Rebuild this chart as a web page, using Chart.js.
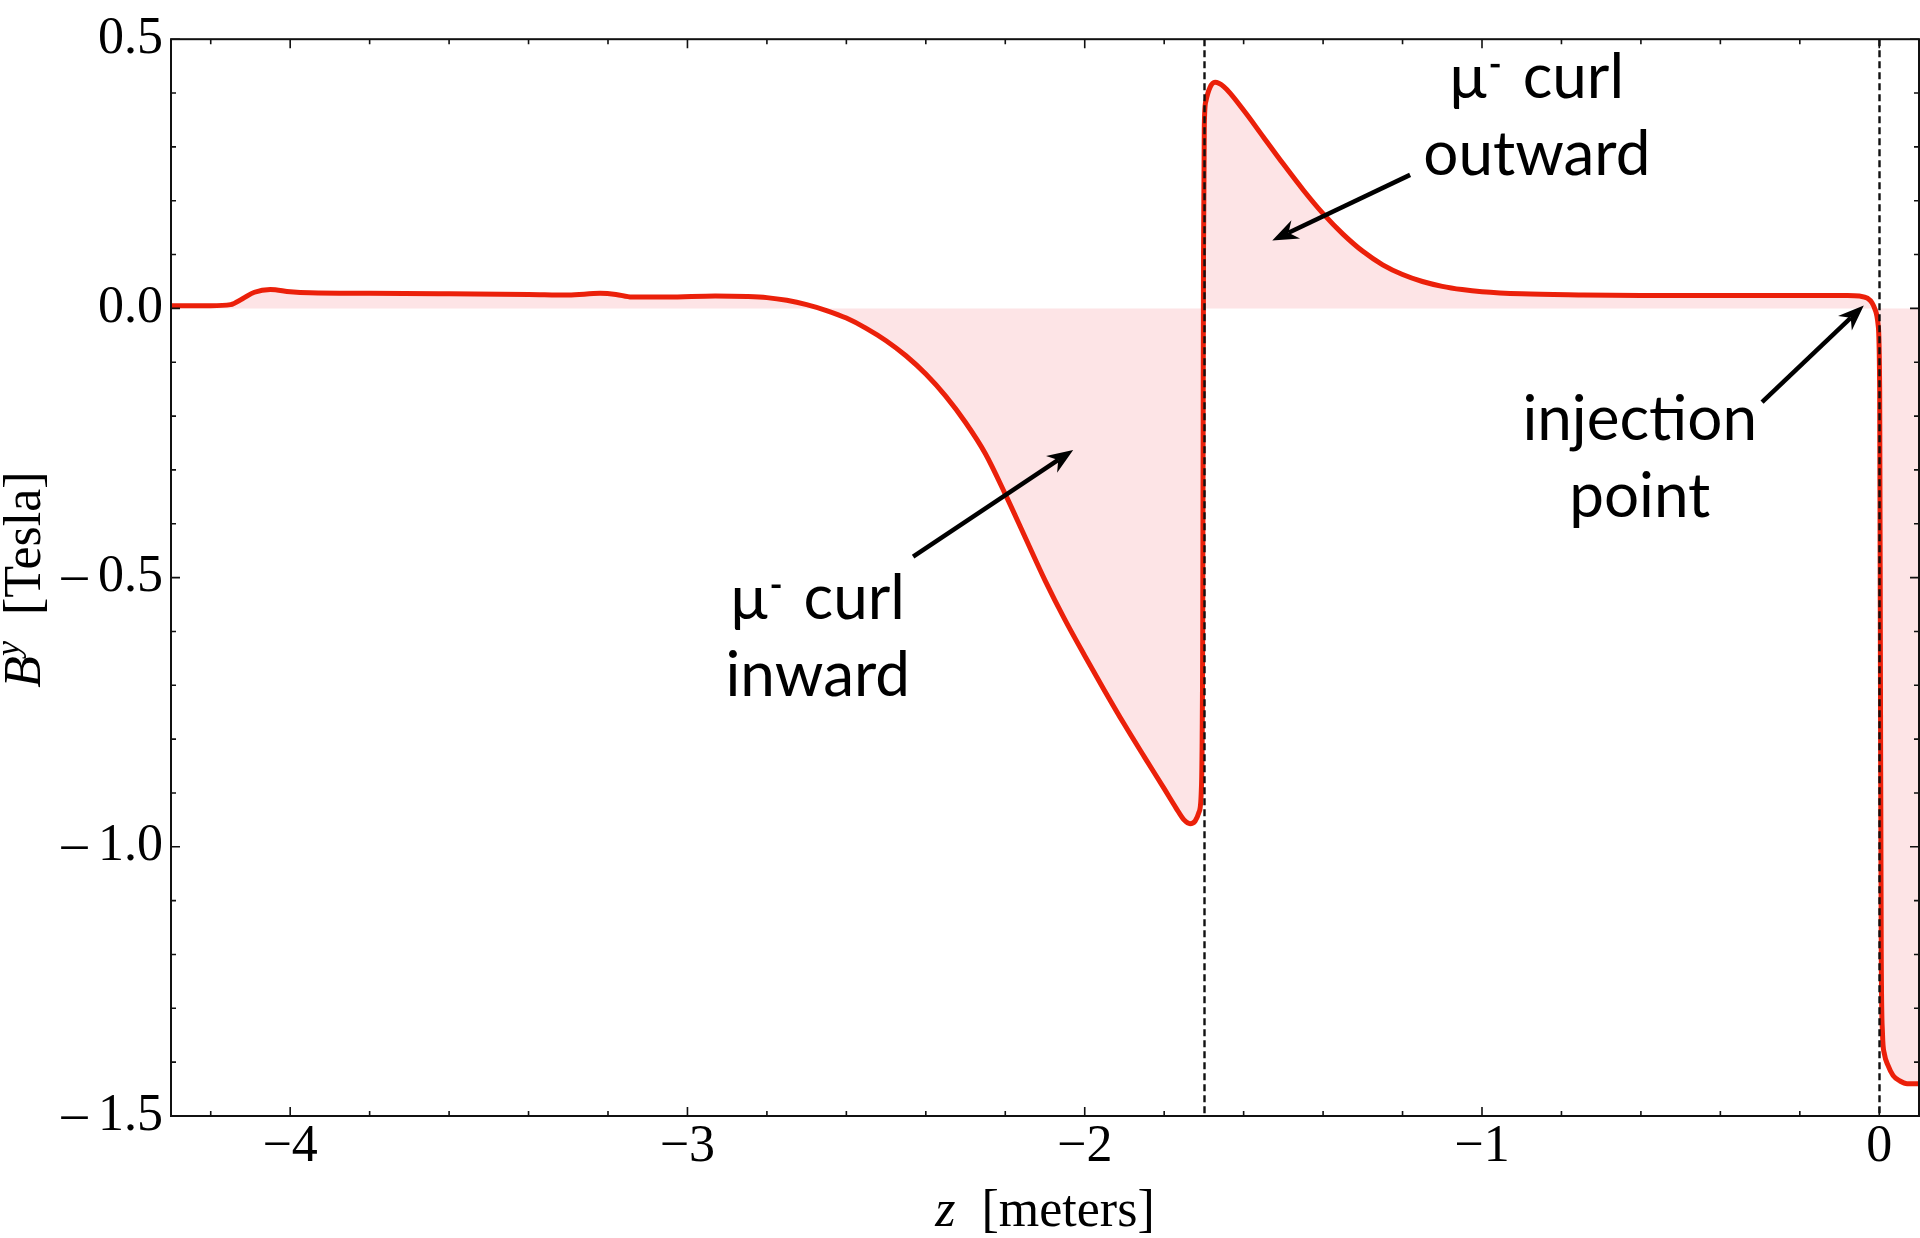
<!DOCTYPE html>
<html>
<head>
<meta charset="utf-8">
<title>B^y along z</title>
<script src="https://cdn.jsdelivr.net/npm/chart.js@4.4.0/dist/chart.umd.min.js"></script>
<style>
  html, body { margin: 0; padding: 0; background: #fff; }
  #wrap { width: 1920px; height: 1238px; position: relative; }
</style>
</head>
<body>
<div id="wrap"><canvas id="field"></canvas></div>
<script>
// z along the beam line [meters]
const zMeters = [
  -4.30, -4.20, -4.15, -4.12, -4.09, -4.05, -4.00, -3.95, -3.80, -3.60,
  -3.40, -3.30, -3.22, -3.18, -3.14, -3.05, -2.93, -2.85, -2.80, -2.75,
  -2.70, -2.65, -2.60, -2.55, -2.50, -2.45, -2.40, -2.35, -2.30, -2.25,
  -2.20, -2.15, -2.10, -2.05, -2.00, -1.95, -1.90, -1.85, -1.80, -1.77,
  -1.75, -1.735, -1.722, -1.712, -1.706, -1.703, -1.701, -1.699, -1.695, -1.685,
  -1.672, -1.65, -1.60, -1.55, -1.50, -1.45, -1.40, -1.35, -1.30, -1.25,
  -1.20, -1.15, -1.10, -1.05, -1.00, -0.90, -0.75, -0.60, -0.40, -0.20,
  -0.08, -0.05, -0.03, -0.018, -0.009, -0.003, 0.001, 0.003, 0.005, 0.008,
  0.013, 0.022, 0.035, 0.052, 0.07, 0.10
];
// vertical field component [Tesla]
const byTesla = [
  0.005, 0.005, 0.007, 0.018, 0.030, 0.035, 0.031, 0.029, 0.028, 0.027,
  0.026, 0.025, 0.028, 0.026, 0.021, 0.021, 0.023, 0.022, 0.020, 0.015,
  0.007, -0.004, -0.018, -0.037, -0.060, -0.088, -0.122, -0.163, -0.212, -0.270,
  -0.345, -0.425, -0.505, -0.578, -0.645, -0.710, -0.773, -0.833, -0.892, -0.928,
  -0.950, -0.957, -0.952, -0.935, -0.885, -0.60, 0.10, 0.34, 0.385, 0.410,
  0.420, 0.412, 0.368, 0.318, 0.268, 0.220, 0.176, 0.138, 0.106, 0.081,
  0.063, 0.050, 0.041, 0.035, 0.031, 0.027, 0.025, 0.024, 0.024, 0.024,
  0.024, 0.023, 0.019, 0.010, -0.005, -0.030, -0.15, -0.70, -1.20, -1.345,
  -1.385, -1.406, -1.425, -1.435, -1.44, -1.44
];

const xTickValues = [-4, -3, -2, -1, 0];
const xTickLabels = ["−4", "−3", "−2", "−1", "0"];
const yTickValues = [-1.5, -1, -0.5, 0, 0.5];
const yTickLabels = ["–\u20091.5", "–\u20091.0", "–\u20090.5", "0.0", "0.5"];

// dashed vertical markers
const markerZ = [-1.70, 0];

const noteTexts = [
  ["μ⁻ curl", "inward"],
  ["μ⁻ curl", "outward"],
  ["injection", "point"]
];

// where the notes sit, in data coordinates (text centre / first baseline, arrow tail -> tip)
const notePlaces = [
  { z: -2.672, b: -0.576, tail: [-2.432, -0.461], tip: [-2.029, -0.263] },
  { z: -0.862, b: 0.391, tail: [-1.181, 0.248], tip: [-1.528, 0.126] },
  { z: -0.603, b: -0.244, tail: [-0.295, -0.174], tip: [-0.039, 0.0056] }
];

const serif = "'Liberation Serif', 'Times New Roman', serif";
const sans = "Lato, 'Open Sans', sans-serif";
const ink = "#111";

function drawRuns(ctx, runs, cx, base) {
  let total = 0;
  runs.forEach(r => { ctx.font = r.font; r.w = r.gap !== undefined ? r.gap : ctx.measureText(r.text).width; total += r.w; });
  let x = cx - total / 2;
  runs.forEach(r => {
    if (r.text) { ctx.font = r.font; ctx.fillText(r.text, x, base - (r.dy || 0)); }
    if (r.dash) ctx.fillRect(x + 4, base - 34, 9, 3.5);
    x += r.w;
  });
}

function arrow(ctx, x1, y1, x2, y2) {
  const ang = Math.atan2(y2 - y1, x2 - x1);
  const len = 26, half = 10, notch = 18;
  const bx = x2 - Math.cos(ang) * notch, by = y2 - Math.sin(ang) * notch;
  ctx.beginPath();
  ctx.moveTo(x1, y1);
  ctx.lineTo(bx, by);
  ctx.stroke();
  const px = x2 - Math.cos(ang) * len, py = y2 - Math.sin(ang) * len;
  ctx.beginPath();
  ctx.moveTo(x2, y2);
  ctx.lineTo(px - Math.sin(ang) * half, py + Math.cos(ang) * half);
  ctx.lineTo(bx, by);
  ctx.lineTo(px + Math.sin(ang) * half, py - Math.cos(ang) * half);
  ctx.closePath();
  ctx.fill();
}

const decorations = {
  id: "decorations",
  afterDatasetsDraw(chart) {
    const { ctx, chartArea: a, scales: { x, y } } = chart;
    ctx.save();

    // dashed markers
    ctx.strokeStyle = ink;
    ctx.lineWidth = 2.4;
    ctx.setLineDash([7, 4]);
    markerZ.forEach(z => {
      const px = Math.round(x.getPixelForValue(z)) + 0.5;
      ctx.beginPath(); ctx.moveTo(px, a.top); ctx.lineTo(px, a.bottom); ctx.stroke();
    });
    ctx.setLineDash([]);

    // frame
    ctx.lineWidth = 2;
    ctx.strokeRect(a.left, a.top, a.right - a.left, a.bottom - a.top);

    // inward ticks on all four sides (0.2 m and 0.1 T steps)
    ctx.lineWidth = 1.6;
    ctx.beginPath();
    for (let i = -21; i <= 0; i++) {
      const v = i * 0.2;
      const len = Math.abs(v - Math.round(v)) < 1e-6 ? 9 : 5;
      const px = x.getPixelForValue(v);
      ctx.moveTo(px, a.bottom); ctx.lineTo(px, a.bottom - len);
      ctx.moveTo(px, a.top); ctx.lineTo(px, a.top + len);
    }
    for (let i = -15; i <= 5; i++) {
      const v = i * 0.1;
      const len = i % 5 === 0 ? 9 : 5;
      const py = y.getPixelForValue(v);
      ctx.moveTo(a.left, py); ctx.lineTo(a.left + len, py);
      ctx.moveTo(a.right, py); ctx.lineTo(a.right - len, py);
    }
    ctx.stroke();

    // notes and arrows
    ctx.fillStyle = "#000";
    ctx.strokeStyle = "#000";
    ctx.textBaseline = "alphabetic";
    ctx.textAlign = "left";
    const noteFont = "62px " + sans;
    noteTexts.forEach((lines, k) => {
      const p = notePlaces[k];
      const cx = x.getPixelForValue(p.z);
      const base = y.getPixelForValue(p.b);
      lines.forEach((line, j) => {
        const bl = base + j * 77;
        if (line.includes("⁻")) {
          const [head, rest] = line.split("⁻");
          drawRuns(ctx, [
            { text: head, font: noteFont },
            { dash: true, gap: 36, font: noteFont },
            { text: rest.trim(), font: noteFont }
          ], cx, bl);
        } else {
          drawRuns(ctx, [{ text: line, font: noteFont }], cx, bl);
        }
      });
      ctx.lineWidth = 4.5;
      arrow(ctx,
        x.getPixelForValue(p.tail[0]), y.getPixelForValue(p.tail[1]),
        x.getPixelForValue(p.tip[0]), y.getPixelForValue(p.tip[1]));
    });

    // axis titles
    const cx = (a.left + a.right) / 2;
    drawRuns(ctx, [
      { text: "z", font: "italic 52px " + serif },
      { text: "  [meters]", font: "52px " + serif }
    ], cx, 1226);

    ctx.translate(40, (a.top + a.bottom) / 2 + 2);
    ctx.rotate(-Math.PI / 2);
    drawRuns(ctx, [
      { text: "B", font: "italic 52px " + serif },
      { text: "y", font: "italic 34px " + serif, dy: 21 },
      { text: "  [Tesla]", font: "52px " + serif }
    ], 0, 0);

    ctx.restore();
  }
};

const points = zMeters.map((z, i) => ({ x: z, y: byTesla[i] }));

new Chart(document.getElementById("field"), {
  type: "line",
  data: {
    datasets: [{
      data: points,
      borderColor: "rgb(235, 32, 10)",
      backgroundColor: "rgb(253, 228, 230)",
      borderWidth: 5,
      fill: "origin",
      pointRadius: 0,
      cubicInterpolationMode: "monotone"
    }]
  },
  options: {
    responsive: true,
    maintainAspectRatio: false,
    animation: false,
    devicePixelRatio: 1,
    layout: { padding: { top: 36, right: 1, bottom: 0, left: 0 } },
    plugins: { legend: { display: false }, tooltip: { enabled: false } },
    scales: {
      x: {
        type: "linear",
        min: -4.3,
        max: 0.1,
        grid: { display: false, drawTicks: false },
        border: { display: false },
        afterBuildTicks: s => { s.ticks = xTickValues.map(v => ({ value: v })); },
        afterFit: s => { s.height = 122; },
        ticks: {
          autoSkip: false,
          maxRotation: 0,
          padding: 0,
          color: "#000",
          font: { family: serif, size: 52 },
          callback: v => xTickLabels[xTickValues.indexOf(v)]
        }
      },
      y: {
        min: -1.5,
        max: 0.5,
        grid: { display: false, drawTicks: false },
        border: { display: false },
        afterBuildTicks: s => { s.ticks = yTickValues.map(v => ({ value: v })); },
        afterFit: s => { s.width = 171; },
        ticks: {
          autoSkip: false,
          padding: 8,
          color: "#000",
          font: { family: serif, size: 52 },
          callback: v => yTickLabels[yTickValues.indexOf(v)]
        }
      }
    }
  },
  plugins: [decorations]
});
</script>
</body>
</html>
